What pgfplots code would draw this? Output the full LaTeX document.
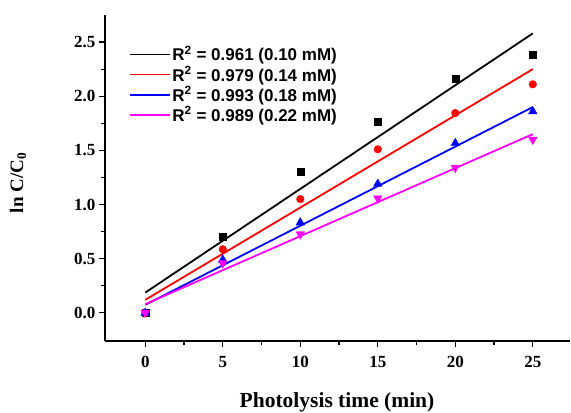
\documentclass[border=0pt]{standalone}
\usepackage{pgfplots}
\pgfplotsset{compat=1.18}
\usepackage{fontspec}
\setmainfont{Liberation Serif}
\newfontfamily\arial{Liberation Sans}
\definecolor{mag}{RGB}{255,0,255}
\definecolor{rd}{RGB}{255,0,0}
\definecolor{bl}{RGB}{0,0,255}
\begin{document}
\begin{tikzpicture}
\begin{axis}[
  scale only axis, width=465pt, height=326pt,
  xmin=-2.6, xmax=27.4, ymin=-0.26, ymax=2.75,
  axis lines=left, axis line style={-, line width=1.5pt},
  tick align=outside, major tick length=6pt, minor tick length=4pt,
  every tick/.style={line width=1.3pt, black},
  xtick={0,5,10,15,20,25}, ytick={0,0.5,1.0,1.5,2.0,2.5},
  minor x tick num=1, minor y tick num=1,
  /pgf/number format/assume math mode=true,
  yticklabel style={/pgf/number format/fixed, /pgf/number format/fixed zerofill, /pgf/number format/precision=1},
  ticklabel style={font=\bfseries\fontsize{17}{17}\selectfont},
  xticklabel style={yshift=-6pt},
  xlabel={\textbf{Photolysis time (min)}},
  ylabel={\textbf{ln C/C\textsubscript{0}}},
  xlabel style={font=\bfseries\fontsize{21.5}{21.5}\selectfont, at={(rel axis cs:0.499,-0.2025)}, anchor=base},
  ylabel style={font=\bfseries\fontsize{19}{19}\selectfont, at={(rel axis cs:-0.187,0.485)}, anchor=center},
  legend style={at={(rel axis cs:0.045,0.915)}, anchor=north west, draw=none, fill=none,
    font=\arial\bfseries\fontsize{17}{17}\selectfont, row sep=1pt,
    nodes={inner sep=1.5pt}},
  legend cell align=left,
  legend image code/.code={\draw[#1, line width=1.8pt] (0pt,0pt) -- (40pt,0pt);},
  clip=false,
]
\addplot[only marks, mark=square*, mark size=3.6pt, black, forget plot] coordinates {(0,0)(5,0.70)(10,1.30)(15,1.765)(20,2.16)(25,2.38)};
\addplot[only marks, mark=*, mark size=3.8pt, rd, forget plot] coordinates {(0,0)(5,0.587)(10,1.05)(15,1.51)(20,1.845)(25,2.11)};
\addplot[only marks, mark=triangle*, mark size=5pt, bl, forget plot] coordinates {(0,0)(5,0.489)(10,0.833)(15,1.19)(20,1.566)(25,1.86)};
\addplot[only marks, mark=triangle*, mark size=5pt, mark options={rotate=180}, mag, forget plot] coordinates {(0,0)(5,0.458)(10,0.726)(15,1.058)(20,1.34)(25,1.60)};
\addplot[black, line width=1.8pt] coordinates {(0,0.187)(25,2.58)};
\addlegendentry{R\textsuperscript{2} = 0.961 (0.10 mM)}
\addplot[rd, line width=1.8pt] coordinates {(0,0.12)(25,2.25)};
\addlegendentry{R\textsuperscript{2} = 0.979 (0.14 mM)}
\addplot[bl, line width=1.8pt] coordinates {(0,0.074)(25,1.90)};
\addlegendentry{R\textsuperscript{2} = 0.993 (0.18 mM)}
\addplot[mag, line width=1.8pt] coordinates {(0,0.08)(25,1.65)};
\addlegendentry{R\textsuperscript{2} = 0.989 (0.22 mM)}
\end{axis}
\pgfresetboundingbox
\path[use as bounding box] ([xshift=-105pt,yshift=-71pt]current axis.south west) rectangle ([xshift=1pt,yshift=15pt]current axis.north east);
\end{tikzpicture}
\end{document}
